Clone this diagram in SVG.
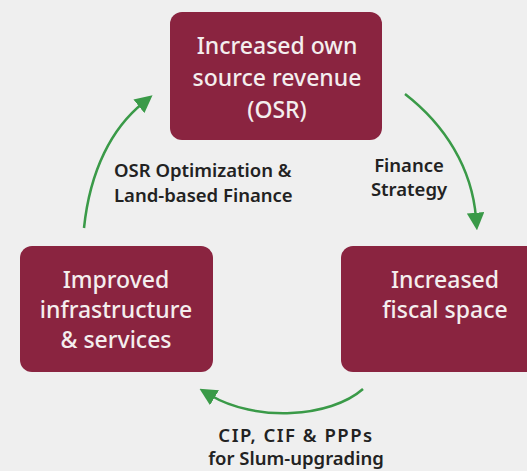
<svg xmlns="http://www.w3.org/2000/svg" width="527" height="471" viewBox="0 0 527 471">
<defs>
<style>
.box{fill:#8a2440}
.bt{font-family:"Noto Sans","Open Sans",sans-serif;font-size:23px;font-weight:500;fill:#f4eeee;text-anchor:middle}
.lb{font-family:"Noto Sans","Open Sans",sans-serif;font-size:18.5px;font-weight:600;fill:#222}
.ar{fill:none;stroke:#3a9a48;stroke-width:2.5;marker-end:url(#ah)}
</style>
<marker id="ah" viewBox="0 0 10 10" refX="3" refY="5" markerWidth="7" markerHeight="7" orient="auto" markerUnits="strokeWidth">
<path d="M0,0 L10,5 L0,10 z" fill="#3a9a48"/>
</marker>
</defs>
<rect width="527" height="471" fill="#efefef"/>
<g id="n-osr">
<rect class="box" x="170" y="12" width="212" height="128" rx="12"/>
<text class="bt" x="277" y="54">Increased own</text>
<text class="bt" x="277" y="86">source revenue</text>
<text class="bt" x="277" y="118">(OSR)</text>
</g>
<g id="n-infra">
<rect class="box" x="20" y="246" width="193" height="126" rx="12"/>
<text class="bt" x="116" y="288">Improved</text>
<text class="bt" x="116" y="318">infrastructure</text>
<text class="bt" x="116" y="348">&amp; services</text>
</g>
<g id="n-fiscal">
<rect class="box" x="341" y="246" width="200" height="126" rx="12"/>
<text class="bt" x="445" y="288">Increased</text>
<text class="bt" x="445" y="318">fiscal space</text>
</g>
<g id="connectors">
<path class="ar" d="M84,228 C90,170 112,128 143,103"/>
<path class="ar" d="M405,94 C445,125 472,168 476,218"/>
<path class="ar" d="M363,389 C330,418 255,422 210,395"/>
</g>
<g id="labels">
<text class="lb" x="409" y="172" text-anchor="middle" font-size="17">Finance</text>
<text class="lb" x="409" y="196" text-anchor="middle" font-size="17">Strategy</text>
<text class="lb" x="114" y="177">OSR Optimization &amp;</text>
<text class="lb" x="114" y="202">Land-based Finance</text>
<text class="lb" x="296" y="442" text-anchor="middle" letter-spacing="1.5">CIP, CIF &amp; PPPs</text>
<text class="lb" x="296" y="465" text-anchor="middle">for Slum-upgrading</text>
</g>
</svg>
